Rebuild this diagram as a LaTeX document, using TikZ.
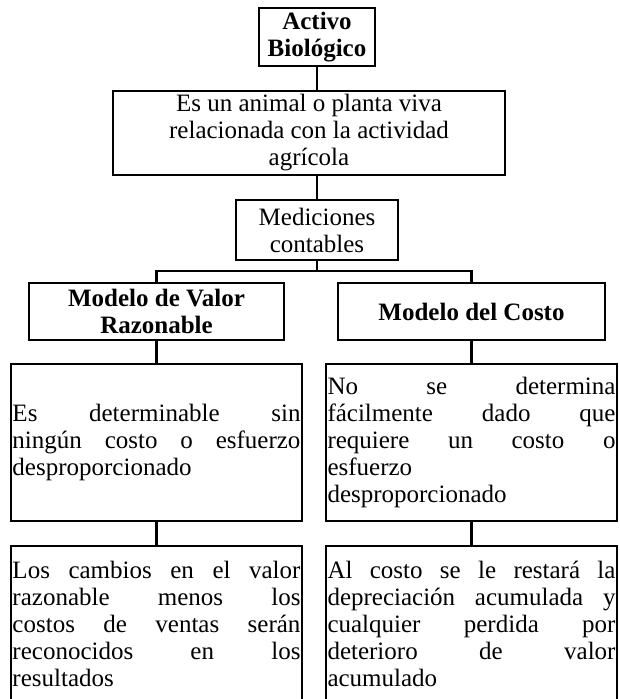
\documentclass[tikz,border=0pt]{standalone}
\usepackage{fontspec}
\setmainfont{Liberation Serif}
\newcommand{\jl}[1]{\makebox[288pt][s]{#1}}
\begin{document}
\begin{tikzpicture}[x=1pt,y=-1pt,
  txt/.style={font=\fontsize{25}{27}\selectfont},
  box/.style={draw, line width=2.4pt, inner sep=0pt, align=center, txt},
  boldbox/.style={box, font=\fontsize{25}{27}\selectfont\bfseries},
  pbox/.style={draw, line width=2.4pt, inner sep=0pt, txt},
  conn/.style={line width=2.4pt}]
\clip (0,0) rectangle (619,699);
\useasboundingbox (0,0) rectangle (619,699);

\node[boldbox, minimum width=116pt, minimum height=58pt] (B1) at (317,37) {Activo\\Biológico};
\node[box, minimum width=392pt, minimum height=84pt] (B2) at (309,133) {Es un animal o planta viva\\relacionada con la actividad\\agrícola};
\node[box, minimum width=162pt, minimum height=60pt] (B3) at (317,230) {Mediciones\\contables};
\node[boldbox, minimum width=255pt, minimum height=57pt] (B4) at (156.5,311.5) {Modelo de Valor\\Razonable};
\node[boldbox, minimum width=267pt, minimum height=57pt] (B5) at (471.5,311.5) {Modelo del Costo};

\node[pbox, minimum width=291pt, minimum height=157pt] (B6) at (156.5,442.5)
  {\parbox{288pt}{\jl{Es determinable sin}\\\jl{ningún costo o esfuerzo}\\desproporcionado}};
\node[pbox, minimum width=291pt, minimum height=157pt] (B7) at (471.5,442.5)
  {\parbox{288pt}{\jl{No se determina}\\\jl{fácilmente dado que}\\\jl{requiere un costo o}\\esfuerzo\\desproporcionado}};

\node[pbox, minimum width=291pt, anchor=north] (B8) at (156.5,545)
  {\parbox[t][190pt][t]{288pt}{\rule{0pt}{32pt}\jl{Los cambios en el valor}\\\jl{razonable menos los}\\\jl{costos de ventas serán}\\\jl{reconocidos en los}\\resultados}};
\node[pbox, minimum width=291pt, anchor=north] (B9) at (471.5,545)
  {\parbox[t][190pt][t]{288pt}{\rule{0pt}{32pt}\jl{Al costo se le restará la}\\\jl{depreciación acumulada y}\\\jl{cualquier perdida por}\\\jl{deterioro de valor}\\acumulado}};

\draw[conn] (B1.south) -- (B1.south |- B2.north);
\draw[conn] (B3.north |- B2.south) -- (B3.north);
\draw[conn] (B3.south) -- ++(0,10) coordinate (J) -| (B4.north);
\draw[conn] (J) -| (B5.north);
\draw[conn] (B4.south) -- (B6.north);
\draw[conn] (B5.south) -- (B7.north);
\draw[conn] (B6.south) -- (B8.north);
\draw[conn] (B7.south) -- (B9.north);
\end{tikzpicture}
\end{document}
